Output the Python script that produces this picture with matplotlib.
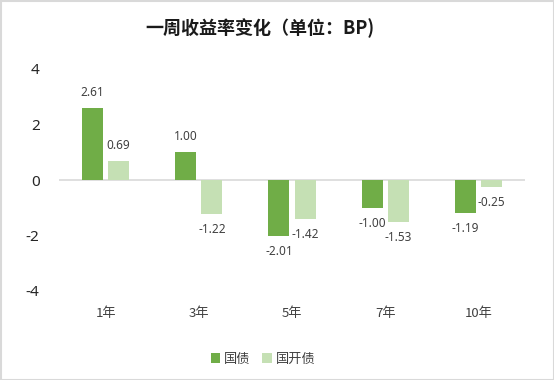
import matplotlib
matplotlib.use("Agg")
import matplotlib.pyplot as plt
import numpy as np
from matplotlib.patches import Rectangle

categories = ["1年", "3年", "5年", "7年", "10年"]
guozhai = [2.61, 1.00, -2.01, -1.00, -1.19]
guokaizhai = [0.69, -1.22, -1.42, -1.53, -0.25]
series_names = ["国债", "国开债"]
yticks = [-4, -2, 0, 2, 4]

plt.rcParams['font.family'] = ['Noto Sans CJK SC', 'DejaVu Sans']

W, H = 554, 380
fig = plt.figure(figsize=(W/100, H/100), dpi=100)
ax = fig.add_axes([59/W, 1-291/H, (525-59)/W, (291-69)/H])

x = np.arange(len(categories))
bw = 0.225
off = 0.14
c1, c2 = "#70AD47", "#C5E0B4"
b1 = ax.bar(x - off, guozhai, bw, color=c1, label=series_names[0])
b2 = ax.bar(x + off, guokaizhai, bw, color=c2, label=series_names[1])

for bars, vals in ((b1, guozhai), (b2, guokaizhai)):
    for rect, v in zip(bars, vals):
        cx = rect.get_x() + rect.get_width()/2
        dy = 11 if v >= 0 else -11
        ax.annotate(f"{v:.2f}", (cx, v), xytext=(0, dy), textcoords="offset points",
                    ha="center", va="center", fontsize=8.5, color="#404040",
                    family=['Noto Sans', 'DejaVu Sans'])

ax.set_xlim(-0.5, len(categories)-0.5)
ax.set_ylim(-4, 4)
ax.set_yticks(yticks)
ax.set_yticklabels([str(t) for t in yticks], fontsize=11, color="#262626",
                   family=['Noto Sans', 'DejaVu Sans'])
ax.tick_params(axis='y', length=0, pad=14)
ax.set_xticks([])
for s in ax.spines.values():
    s.set_visible(False)
ax.axhline(0, color="#d9d9d9", lw=1.2, zorder=0)

ycat = -4 - (313-291)/(291-69)*8
for xi, c in zip(x, categories):
    ax.text(xi, ycat, c, ha="center", va="center",
            fontsize=9.5, color="#404040")

fig.text(260/W, 1-28/H, "一周收益率变化（单位：BP)", ha="center", va="center",
         fontsize=13, fontweight="bold", color="#1a1a1a")

leg = fig.legend(handles=[b1, b2], labels=series_names, loc="center",
                 bbox_to_anchor=(263/W, 1-359/H), ncol=2, frameon=False,
                 fontsize=9.5, handlelength=0.7, handleheight=0.7,
                 handletextpad=0.3, columnspacing=0.9)
for t in leg.get_texts():
    t.set_color("#404040")

fig.patches.append(Rectangle((0.5/W, 0.5/H), 1-1/W, 1-1/H, transform=fig.transFigure,
                             fill=False, edgecolor="#d9d9d9", lw=1.5))

fig.savefig("out.png", dpi=100, facecolor="white")
